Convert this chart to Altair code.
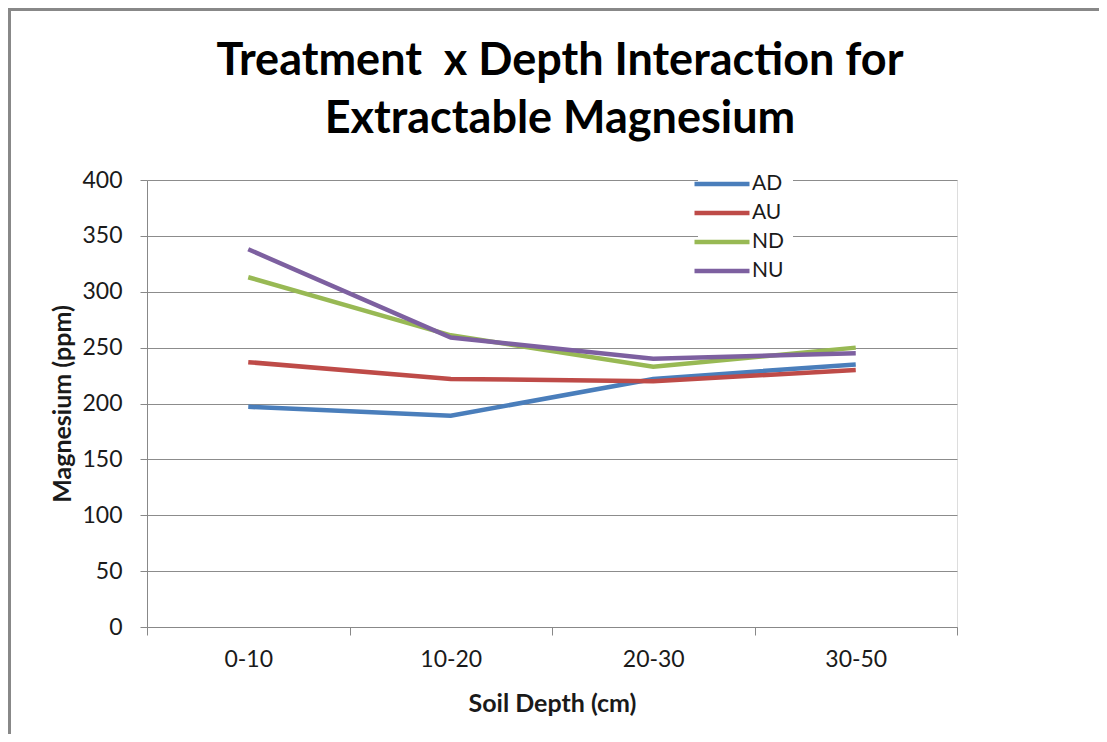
import altair as alt
import pandas as pd

depths = ["0-10", "10-20", "20-30", "30-50"]
series = ["AD", "AU", "ND", "NU"]
ad = [197, 189, 222, 235]
au = [237, 222, 220, 230]
nd = [313, 261, 233, 250]
nu = [338, 259, 240, 245]
colors = ["#4a7ebb", "#be4b48", "#98b954", "#7d60a0"]
y_ticks = [0, 50, 100, 150, 200, 250, 300, 350, 400]
title_lines = ["Treatment\u00a0 x Depth Interaction for", "Extractable Magnesium"]

rows = []
for name, vals in zip(series, [ad, au, nd, nu]):
    for d, v in zip(depths, vals):
        rows.append({"Depth": d, "Treatment": name, "Mg": v})
df = pd.DataFrame(rows)

FONT = "Lato"
TXT = "#1a1a1a"

lines = alt.Chart(df).mark_line(strokeWidth=4.5).encode(
    x=alt.X(
        "Depth:N",
        sort=depths,
        title="Soil Depth (cm)",
        scale=alt.Scale(type="band", paddingInner=0, paddingOuter=0),
        axis=alt.Axis(
            labelAngle=0, tickBand="extent", tickSize=8, tickColor="#888888",
            domainColor="#888888", labelFontSize=23, labelFont=FONT, labelColor=TXT,
            labelPadding=13, titleFont=FONT, titleFontSize=25, titleFontWeight="bold",
            titleColor=TXT, titlePadding=20, grid=False,
        ),
    ),
    y=alt.Y(
        "Mg:Q",
        title="Magnesium (ppm)",
        scale=alt.Scale(domain=[0, 400], nice=False),
        axis=alt.Axis(
            values=y_ticks, tickSize=7, tickColor="#888888", domainColor="#888888",
            gridColor="#8c8c8c", labelFontSize=23, labelFont=FONT, labelColor=TXT,
            labelPadding=18, titleFont=FONT, titleFontSize=25, titleFontWeight="bold",
            titleColor=TXT, titlePadding=6,
        ),
    ),
    color=alt.Color(
        "Treatment:N",
        scale=alt.Scale(domain=series, range=colors),
        legend=alt.Legend(
            title=None, orient="none", legendX=551, legendY=-20, padding=8,
            symbolType="M-2,0L2,0", symbolSize=756, symbolStrokeWidth=4.5,
            labelFontSize=21, labelFont=FONT, labelColor=TXT, labelOffset=14,
            rowPadding=3, fillColor="white",
        ),
    ),
)

border = alt.Chart(df).mark_rect(fill=None, stroke="#888888", strokeWidth=2.5).encode(
    x=alt.value(-138), x2=alt.value(1200), y=alt.value(-171), y2=alt.value(900)
)

t1 = alt.Chart(pd.DataFrame({"line": [title_lines[0]]})).mark_text(
    font=FONT, fontSize=45, fontWeight="bold", color="#000000", align="center", baseline="middle"
).encode(x=alt.value(413), y=alt.value(-119), text="line:N")
t2 = alt.Chart(pd.DataFrame({"line": [title_lines[1]]})).mark_text(
    font=FONT, fontSize=45, fontWeight="bold", color="#000000", align="center", baseline="middle"
).encode(x=alt.value(413), y=alt.value(-61), text="line:N")

chart = alt.layer(border, lines, t1, t2).properties(
    width=810,
    height=447,
    autosize="none",
    padding={"left": 139, "top": 172, "right": 142, "bottom": 107},
).configure_view(stroke=None).configure(background="white")

chart.save("out.html", embed_options={"renderer": "svg", "actions": False})
